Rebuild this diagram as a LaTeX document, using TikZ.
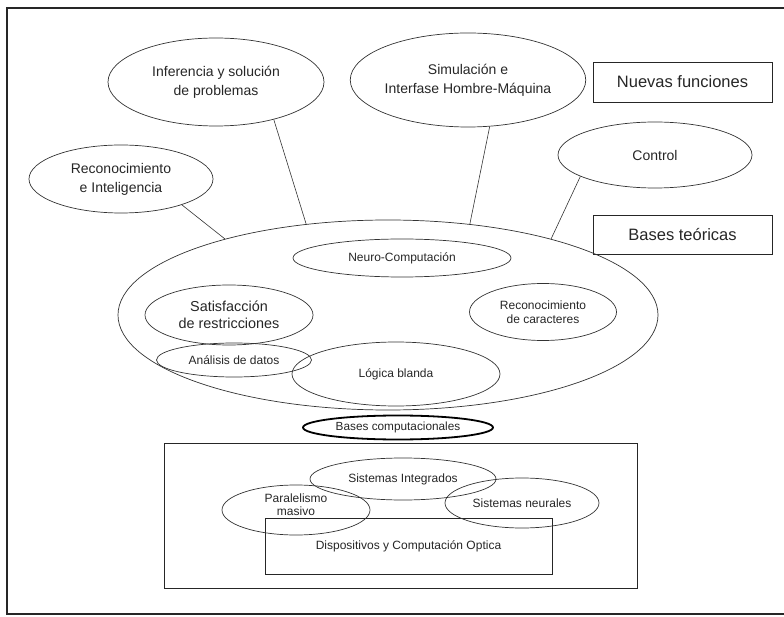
\documentclass[tikz,border=0pt]{standalone}
\usepackage{fontspec}
\setmainfont{Liberation Sans}
\usetikzlibrary{shapes.geometric}
\begin{document}
\begin{tikzpicture}[x=1pt,y=-1pt,
  oval/.style={ellipse,draw=black!80,line width=0.7pt,inner sep=0pt,align=center,text=black!85},
  lbox/.style={rectangle,draw=black!85,line width=0.9pt,inner sep=0pt,align=center,text=black!85},
  link/.style={draw=black!80,line width=0.6pt},
  fbig/.style={font=\fontsize{16.5}{20}\selectfont},
  fmid/.style={font=\fontsize{14}{19}\selectfont},
  fsml/.style={font=\fontsize{12}{14}\selectfont}]
\useasboundingbox (0,0) rectangle (784,617);
% outer frame
\draw[black!85,line width=1.3pt] (784,8) -- (7,8) -- (7,614) -- (784,614);
% top level ellipses
\node[oval,fmid,minimum width=216pt,minimum height=88pt] (inf) at (216,82) {Inferencia y solución\\de problemas};
\node[oval,fmid,minimum width=224pt,minimum height=94pt] (sim) at (468,80) {Simulación e\\Interfase Hombre-Máquina};
\node[oval,fmid,minimum width=194pt,minimum height=66pt] (ctl) at (655,155) {Control};
\node[oval,fmid,minimum width=184pt,minimum height=68pt] (rec) at (121,179) {Reconocimiento\\e Inteligencia};
% label boxes
\node[lbox,fbig,minimum width=179pt,minimum height=40pt] (nf) at (682.5,82) {Nuevas funciones};
\node[lbox,fbig,minimum width=179pt,minimum height=39pt] (bt) at (682.5,234.5) {Bases teóricas};
% big ellipse
\node[oval,minimum width=540pt,minimum height=190pt] (big) at (388,315) {};
\node[oval,fsml,minimum width=218pt,minimum height=38pt] (neu) at (402,258) {Neuro-Computación};
\node[oval,font=\fontsize{14.4}{17}\selectfont,minimum width=168pt,minimum height=60pt] (sat) at (229,315) {Satisfacción\\de restricciones};
\node[oval,font=\fontsize{12}{14}\selectfont,minimum width=147pt,minimum height=57pt] (rca) at (543,312) {Reconocimiento\\de caracteres};
\node[oval,fsml,minimum width=208pt,minimum height=64pt] (log) at (396,374) {Lógica blanda};
\node[oval,fsml,minimum width=155pt,minimum height=34pt] (ana) at (234,360) {Análisis de datos};
% connectors
\draw[link] (inf.-33.7) -- (big.132.1);
\draw[link] (sim.-65.9) -- (big.48.7);
\draw[link] (ctl.196.1) -- (big.25.7);
\draw[link] (rec.-23.6) -- (big.155.7);
% computational bases
\node[ellipse,draw=black,line width=1.8pt,inner sep=0pt,font=\fontsize{11.8}{14}\selectfont,minimum width=190pt,minimum height=24pt,text=black!85] (bc) at (398,427.5) {Bases computacionales};
\node[lbox,line width=0.8pt,minimum width=473pt,minimum height=145pt] (cbox) at (400.5,515.5) {};
\node[lbox,fsml,minimum width=287pt,minimum height=56pt] (dis) at (408.5,546) {Dispositivos y Computación Optica};
\node[oval,fsml,minimum width=186pt,minimum height=42pt] (sin) at (403,479) {Sistemas Integrados};
\node[oval,minimum width=148pt,minimum height=50pt] (par) at (296,510) {};
\node[align=center,inner sep=0pt,text=black!85,font=\fontsize{12}{13}\selectfont] (partext) at (296,504.5) {Paralelismo\\masivo};
\node[oval,fsml,minimum width=154pt,minimum height=50pt] (sne) at (522,503) {Sistemas neurales};
\end{tikzpicture}
\end{document}
